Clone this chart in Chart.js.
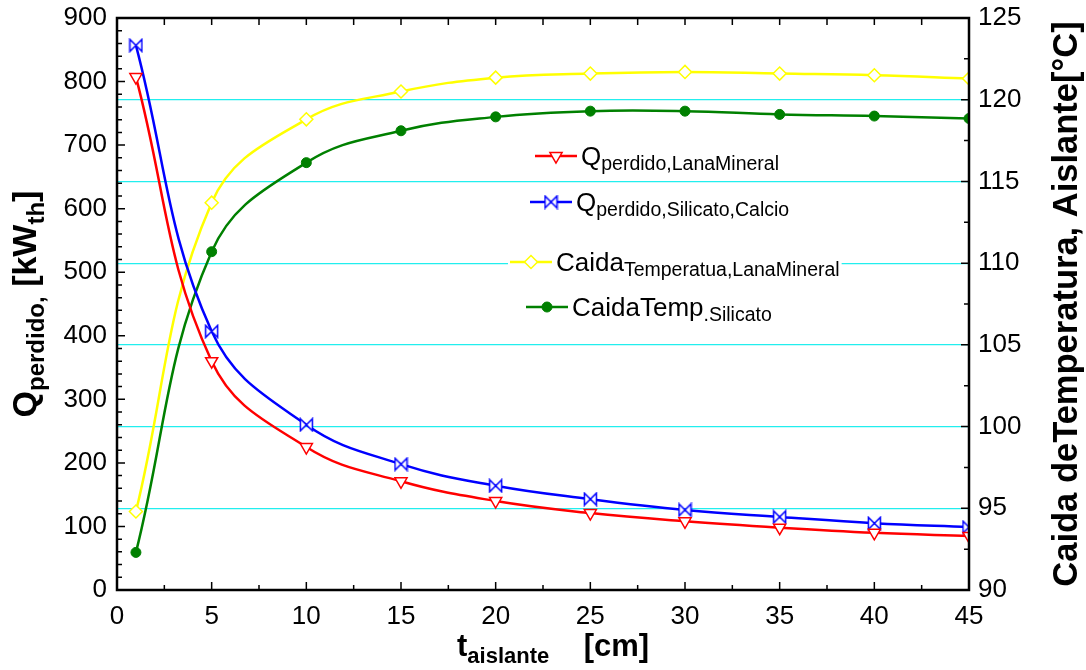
<!DOCTYPE html>
<html>
<head>
<meta charset="utf-8">
<script src="https://cdn.jsdelivr.net/npm/chart.js@4.4.1/dist/chart.umd.min.js"></script>
<style>
  html, body { margin: 0; padding: 0; background: #fff; }
  canvas { display: block; }
</style>
</head>
<body>
<canvas id="grafico" width="1086" height="670"></canvas>
<script>
// espesor del aislante [cm]
const espesores = [1, 5, 10, 15, 20, 25, 30, 35, 40, 45];
// calor perdido [kWth]
const qLanaMineral = [807, 360, 225, 171, 140, 121, 108, 98, 90, 85];
const qSilicatoCalcio = [857, 407, 260, 198, 164, 143, 126, 115, 105, 99];
// caida de temperatura en el aislante [°C]
const caidaLanaMineral = [94.8, 113.7, 118.8, 120.5, 121.35, 121.6, 121.7, 121.6, 121.5, 121.3];
const caidaSilicato = [92.3, 110.7, 116.15, 118.1, 118.95, 119.3, 119.3, 119.1, 119.0, 118.85];

// ejes: [min, max, paso, paso menor]
const ejeX = [0, 45, 5, 2.5];
const ejeQ = [0, 900, 100, 20];
const ejeT = [90, 125, 5, 2.5];

// textos con subindices: [texto, esSubindice]
const leyendas = [
  [['Q', false], ['perdido,LanaMineral', true]],
  [['Q', false], ['perdido,Silicato,Calcio', true]],
  [['Caida', false], ['Temperatua,LanaMineral', true]],
  [['CaidaTemp', false], ['.Silicato', true]]
];
const tituloX = [['t', false], ['aislante', true], ['    [cm]', false]];
const tituloQ = [['Q', false], ['perdido,', true], [' [kW', false], ['th', true], [']', false]];
const tituloT = [['Caida deTemperatura, Aislante[°C]', false]];

const FUENTE = "'Liberation Sans', Arial, sans-serif";

// posicion de cada linea de la leyenda (inicio de la linea, centro vertical)
const posLeyenda = [
  { x: 535, y: 156 },
  { x: 530, y: 202 },
  { x: 510, y: 262 },
  { x: 526, y: 307 }
];

// marcador tipo "corbatin" para el silicato de calcio
function marcadorCorbatin() {
  const c = document.createElement('canvas');
  c.width = 15; c.height = 15;
  const g = c.getContext('2d');
  g.beginPath();
  g.moveTo(1.5, 1.5);
  g.lineTo(13.5, 13.5);
  g.lineTo(13.5, 1.5);
  g.lineTo(1.5, 13.5);
  g.closePath();
  g.fillStyle = '#fff';
  g.fill();
  g.strokeStyle = '#0000ff';
  g.lineWidth = 1.5;
  g.stroke();
  return c;
}

function puntos(ys) {
  return espesores.map((x, i) => ({ x: x, y: ys[i] }));
}

function textoRico(ctx, partes, x, y, fPrin, fSub, bajada) {
  let px = x;
  partes.forEach(([t, sub]) => {
    ctx.font = sub ? fSub : fPrin;
    ctx.fillText(t, px, sub ? y + bajada : y);
    px += ctx.measureText(t).width;
  });
  return px - x;
}

function anchoRico(ctx, partes, fPrin, fSub) {
  let w = 0;
  partes.forEach(([t, sub]) => {
    ctx.font = sub ? fSub : fPrin;
    w += ctx.measureText(t).width;
  });
  return w;
}

// marco negro y marcas de los ejes hacia adentro
const marco = {
  id: 'marco',
  afterDatasetsDraw(chart) {
    const { ctx, chartArea: a, scales } = chart;
    ctx.save();
    ctx.strokeStyle = '#000';
    ctx.lineWidth = 1.5;
    ctx.beginPath();
    const recorrer = (eje, fn) => {
      const [min, max, paso, menor] = eje;
      for (let v = min; v <= max + 1e-9; v += menor) {
        const mayor = Math.abs(v / paso - Math.round(v / paso)) < 1e-6;
        fn(v, mayor ? 8 : 5);
      }
    };
    recorrer(ejeX, (v, l) => {
      const px = scales.x.getPixelForValue(v);
      ctx.moveTo(px, a.bottom); ctx.lineTo(px, a.bottom - l);
      ctx.moveTo(px, a.top); ctx.lineTo(px, a.top + 7);
    });
    recorrer(ejeQ, (v, l) => {
      const py = scales.y.getPixelForValue(v);
      ctx.moveTo(a.left, py); ctx.lineTo(a.left + l, py);
    });
    recorrer(ejeT, (v, l) => {
      const py = scales.y1.getPixelForValue(v);
      ctx.moveTo(a.right, py); ctx.lineTo(a.right - l, py);
    });
    ctx.stroke();
    ctx.lineWidth = 2.5;
    ctx.strokeRect(a.left, a.top, a.right - a.left, a.bottom - a.top);

    // titulos de los ejes
    ctx.fillStyle = '#000';
    ctx.textBaseline = 'alphabetic';
    const cy = (a.top + a.bottom) / 2;
    let fT = 'bold 31px ' + FUENTE, fS = 'bold 22px ' + FUENTE;
    textoRico(ctx, tituloX, a.left + 340, 656, fT, fS, 7);

    fT = 'bold 34px ' + FUENTE; fS = 'bold 24px ' + FUENTE;
    let w = anchoRico(ctx, tituloQ, fT, fS);
    ctx.save();
    ctx.translate(36, cy);
    ctx.rotate(-Math.PI / 2);
    textoRico(ctx, tituloQ, -w / 2, 0, fT, fS, 8);
    ctx.restore();

    const fR = 'bold 34.5px ' + FUENTE;
    w = anchoRico(ctx, tituloT, fR, fR);
    ctx.save();
    ctx.translate(1077, cy);
    ctx.rotate(-Math.PI / 2);
    textoRico(ctx, tituloT, -w / 2, 0, fR, fR, 0);
    ctx.restore();
    ctx.restore();
  }
};

// leyenda dentro del grafico, con subindices
const leyenda = {
  id: 'leyenda',
  afterDatasetsDraw(chart) {
    const ctx = chart.ctx;
    const fP = '26px ' + FUENTE, fS = '19.5px ' + FUENTE;
    ctx.save();
    chart.data.datasets.forEach((ds, i) => {
      const p = posLeyenda[i];
      const w = anchoRico(ctx, leyendas[i], fP, fS);
      ctx.fillStyle = '#fff';
      ctx.fillRect(p.x - 2, p.y - 16, 46 + w + 4, 32);
      ctx.strokeStyle = ds.borderColor;
      ctx.lineWidth = ds.borderWidth;
      ctx.beginPath();
      ctx.moveTo(p.x, p.y);
      ctx.lineTo(p.x + 42, p.y);
      ctx.stroke();
      ctx.fillStyle = ds.pointBackgroundColor;
      ctx.strokeStyle = ds.pointBorderColor;
      ctx.lineWidth = ds.pointBorderWidth;
      Chart.helpers.drawPoint(ctx, {
        pointStyle: ds.pointStyle,
        rotation: ds.pointRotation || 0,
        radius: ds.pointRadius,
        borderWidth: ds.pointBorderWidth
      }, p.x + 21, p.y);
      ctx.fillStyle = '#000';
      ctx.textBaseline = 'alphabetic';
      textoRico(ctx, leyendas[i], p.x + 46, p.y + 9, fP, fS, 5);
    });
    ctx.restore();
  }
};

const fuenteTicks = { family: FUENTE, size: 26 };

new Chart(document.getElementById('grafico'), {
  type: 'line',
  data: {
    datasets: [
      {
        label: 'Q perdido, LanaMineral',
        data: puntos(qLanaMineral),
        yAxisID: 'y',
        borderColor: '#ff0000',
        borderWidth: 2.5,
        pointStyle: 'triangle',
        pointRotation: 180,
        pointRadius: 7,
        pointBackgroundColor: '#ffffff',
        pointBorderColor: '#ff0000',
        pointBorderWidth: 1.5,
        tension: 0.4
      },
      {
        label: 'Q perdido, Silicato, Calcio',
        data: puntos(qSilicatoCalcio),
        yAxisID: 'y',
        borderColor: '#0000ff',
        borderWidth: 2.5,
        pointStyle: marcadorCorbatin(),
        pointRadius: 7,
        pointBackgroundColor: '#ffffff',
        pointBorderColor: '#0000ff',
        pointBorderWidth: 1.5,
        tension: 0.4
      },
      {
        label: 'Caida Temperatua, LanaMineral',
        data: puntos(caidaLanaMineral),
        yAxisID: 'y1',
        borderColor: '#ffff00',
        borderWidth: 2.5,
        pointStyle: 'rectRot',
        pointRadius: 6.5,
        pointBackgroundColor: '#ffffff',
        pointBorderColor: '#ffff00',
        pointBorderWidth: 1.5,
        tension: 0.4
      },
      {
        label: 'CaidaTemp. Silicato',
        data: puntos(caidaSilicato),
        yAxisID: 'y1',
        borderColor: '#008000',
        borderWidth: 2.5,
        pointStyle: 'circle',
        pointRadius: 5,
        pointBackgroundColor: '#008000',
        pointBorderColor: '#008000',
        pointBorderWidth: 1,
        tension: 0.4
      }
    ]
  },
  options: {
    responsive: false,
    animation: false,
    devicePixelRatio: 1,
    layout: { padding: { top: 18, left: 0, right: 0, bottom: 0 } },
    plugins: { legend: { display: false }, tooltip: { enabled: false } },
    scales: {
      x: {
        type: 'linear',
        min: ejeX[0], max: ejeX[1],
        ticks: { stepSize: ejeX[2], color: '#000', font: fuenteTicks, padding: 11, maxRotation: 0 },
        grid: { display: false, drawTicks: false },
        border: { display: false },
        afterFit: s => { s.height = 80; s.paddingLeft = 0; s.paddingRight = 0; }
      },
      y: {
        position: 'left',
        min: ejeQ[0], max: ejeQ[1],
        ticks: { stepSize: ejeQ[2], color: '#000', font: fuenteTicks, padding: 10 },
        grid: { display: false, drawTicks: false },
        border: { display: false },
        afterFit: s => { s.width = 117; s.paddingTop = 0; s.paddingBottom = 0; }
      },
      y1: {
        position: 'right',
        min: ejeT[0], max: ejeT[1],
        ticks: { stepSize: ejeT[2], color: '#000', font: fuenteTicks, padding: 9 },
        grid: {
          drawOnChartArea: true,
          drawTicks: false,
          lineWidth: 1.2,
          color: c => (c.tick && c.tick.value > ejeT[0] && c.tick.value < ejeT[1]) ? '#22eeee' : 'rgba(0,0,0,0)'
        },
        border: { display: false },
        afterFit: s => { s.width = 117; s.paddingTop = 0; s.paddingBottom = 0; }
      }
    }
  },
  plugins: [marco, leyenda]
});
</script>
</body>
</html>
